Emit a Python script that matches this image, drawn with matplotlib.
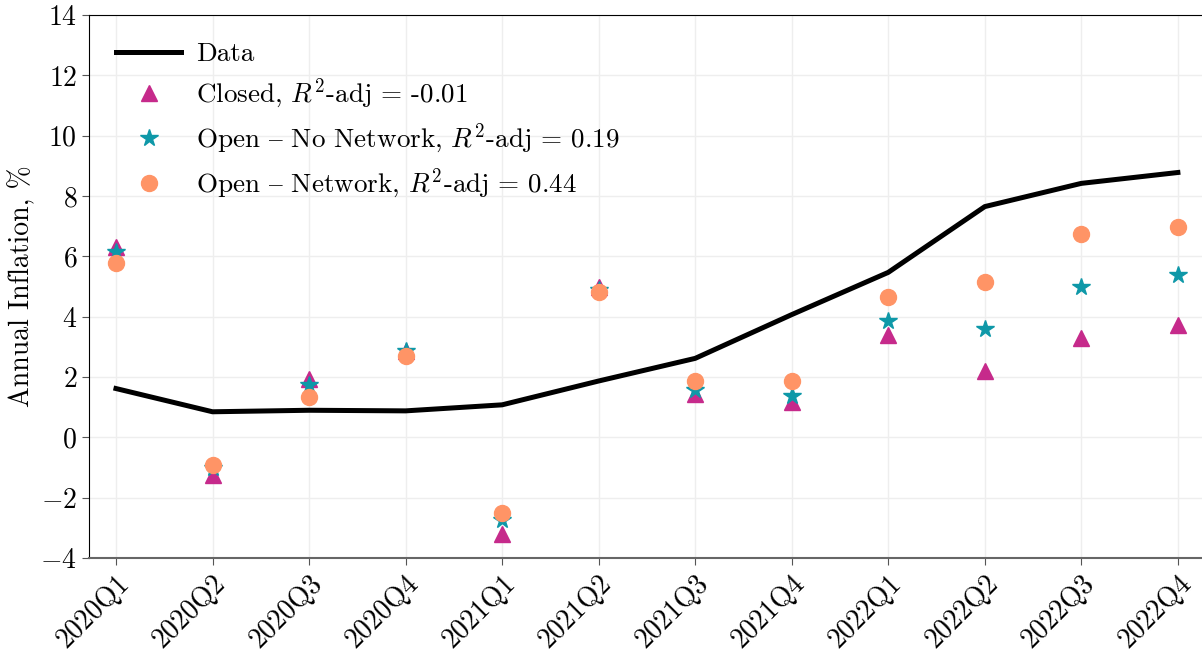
import matplotlib
matplotlib.use("Agg")
import matplotlib.pyplot as plt

quarters = ["2020Q1", "2020Q2", "2020Q3", "2020Q4",
            "2021Q1", "2021Q2", "2021Q3", "2021Q4",
            "2022Q1", "2022Q2", "2022Q3", "2022Q4"]

data = [1.62, 0.85, 0.90, 0.88, 1.08, 1.87, 2.62, 4.07, 5.47, 7.65, 8.42, 8.78]
closed = [6.30, -1.25, 1.92, 2.85, -3.20, 4.98, 1.45, 1.16, 3.38, 2.19, 3.30, 3.73]
open_no_net = [6.13, -1.00, 1.75, 2.85, -2.75, 4.88, 1.56, 1.38, 3.87, 3.60, 4.97, 5.37]
open_net = [5.77, -0.93, 1.33, 2.70, -2.50, 4.82, 1.86, 1.86, 4.64, 5.15, 6.73, 6.97]

labels = ["Data",
          r"Closed, $R^2$-adj = -0.01",
          "Open $\u2013$ No Network, $R^2$-adj = 0.19",
          "Open $\u2013$ Network, $R^2$-adj = 0.44"]

plt.rcParams["font.family"] = ["cmr10", "DejaVu Serif"]
plt.rcParams["mathtext.fontset"] = "cm"
plt.rcParams["axes.formatter.use_mathtext"] = True
plt.rcParams["axes.unicode_minus"] = True

fig = plt.figure(figsize=(12.02, 6.52), dpi=100)
ax = fig.add_axes([0.074, 0.144, 0.926, 0.833])

x = range(len(quarters))
ax.plot(x, data, color="black", lw=3.6, label=labels[0], zorder=3)
ax.plot(x, closed, ls="none", marker="^", ms=11, color="#c62a8b", label=labels[1], zorder=4)
ax.plot(x, open_no_net, ls="none", marker="*", ms=13, color="#0e98a8", label=labels[2], zorder=5)
ax.plot(x, open_net, ls="none", marker="o", ms=11.5, color="#ff9466", label=labels[3], zorder=6)

ax.set_xlim(-0.28, 11.25)
ax.set_ylim(-4, 14)
ax.set_yticks(range(-4, 15, 2))
ax.set_xticks(list(x))
ax.set_xticklabels(quarters, rotation=45, ha="right", rotation_mode="anchor")
ax.tick_params(labelsize=20, length=5, color="#555555")
ax.grid(True, color="#eeeeee", lw=1)
ax.set_axisbelow(True)
ax.set_ylabel("Annual Inflation, %", fontsize=20)
ax.yaxis.set_label_coords(-0.048, 0.5)

ax.spines["right"].set_visible(False)
ax.spines["bottom"].set_color("#666666")
ax.spines["bottom"].set_linewidth(1.5)

ax.legend(loc="upper left", frameon=False, fontsize=19.5, handlelength=2.4,
          handletextpad=0.55, labelspacing=0.4, borderaxespad=0.6)

fig.savefig("out.png", dpi=100)
